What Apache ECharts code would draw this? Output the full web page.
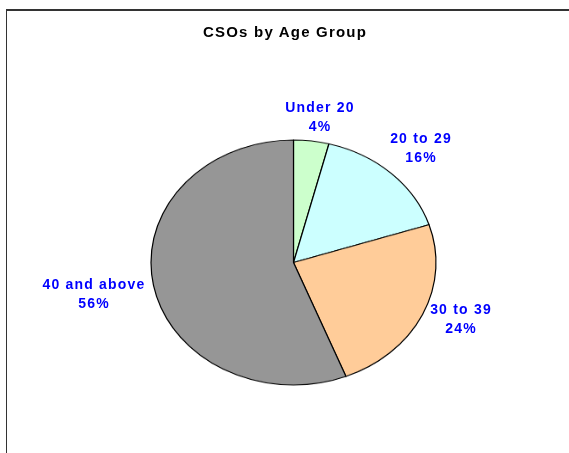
<!DOCTYPE html>
<html>
<head>
<meta charset="utf-8">
<script src="https://cdn.jsdelivr.net/npm/echarts@6/dist/echarts.min.js"></script>
<style>
  html, body { margin: 0; padding: 0; background: #fff; }
  #wrap { position: relative; width: 569px; height: 453px; overflow: hidden; }
  #squash, #labels { position: absolute; left: 0; top: 0; width: 569px; height: 453px; }
  #pie { width: 569px; height: 453px; }
  /* the sheet's pie is an ellipse, so squash the round echarts pie */
  #squash { transform: scale(1, 0.8596); transform-origin: 293.5px 262.5px; }
  /* excel text is set a bit wider than arial */
  #labels text { letter-spacing: 1.2px; }
</style>
</head>
<body>
<div id="wrap">
  <div id="squash"><div id="pie"></div></div>
  <div id="labels"></div>
</div>
<script>
// CSOs by age group, share in %
const ageGroups = ['Under 20', '20 to 29', '30 to 39', '40 and above'];
const shares = [4, 16, 24, 56];
const sliceColors = ['#ccffcc', '#ccffff', '#ffcc99', '#969696'];
// label centres in px, where the sheet put them
const labelSpots = [[320, 116], [421, 147.5], [461, 318], [94, 293.5]];

// bottom layer: the slices
const pieChart = echarts.init(document.getElementById('pie'));
pieChart.setOption({
  animation: false,
  series: [{
    type: 'pie',
    silent: true,
    center: [293.5, 262.5],
    radius: 142.5,
    startAngle: 90,
    clockwise: true,
    label: { show: false },
    labelLine: { show: false },
    itemStyle: { borderColor: '#000', borderWidth: 1.2 },
    data: ageGroups.map((name, i) => ({
      name: name,
      value: shares[i],
      itemStyle: { color: sliceColors[i] }
    }))
  }]
});

// top layer: frame, title and labels (not squashed), slices left invisible
const labelChart = echarts.init(document.getElementById('labels'), null, { renderer: 'svg' });
labelChart.setOption({
  animation: false,
  title: {
    text: 'CSOs by Age Group',
    left: 203,
    top: 24,
    padding: 0,
    textStyle: { fontFamily: 'Liberation Sans, Arial', fontSize: 15, fontWeight: 'bold', color: '#000' }
  },
  graphic: [
    { type: 'line', shape: { x1: 6, y1: 10, x2: 569, y2: 10 }, style: { stroke: '#333', lineWidth: 2 } },
    { type: 'line', shape: { x1: 6.5, y1: 10, x2: 6.5, y2: 453 }, style: { stroke: '#333', lineWidth: 1 } }
  ],
  series: [{
    type: 'pie',
    silent: true,
    center: [293.5, 262.5],
    radius: 142.5,
    startAngle: 90,
    avoidLabelOverlap: false,
    itemStyle: { color: 'rgba(0,0,0,0)', borderWidth: 0 },
    labelLine: { show: false },
    label: {
      show: true,
      position: 'outside',
      formatter: p => p.name + '\n' + Math.round(p.percent) + '%',
      fontFamily: 'Liberation Sans, Arial',
      fontSize: 14,
      fontWeight: 'bold',
      lineHeight: 19,
      color: '#0000ff'
    },
    labelLayout: function (params) {
      const s = labelSpots[params.dataIndex];
      return { x: s[0], y: s[1], align: 'center', verticalAlign: 'middle' };
    },
    data: ageGroups.map((name, i) => ({ name: name, value: shares[i] }))
  }]
});
</script>
</body>
</html>
